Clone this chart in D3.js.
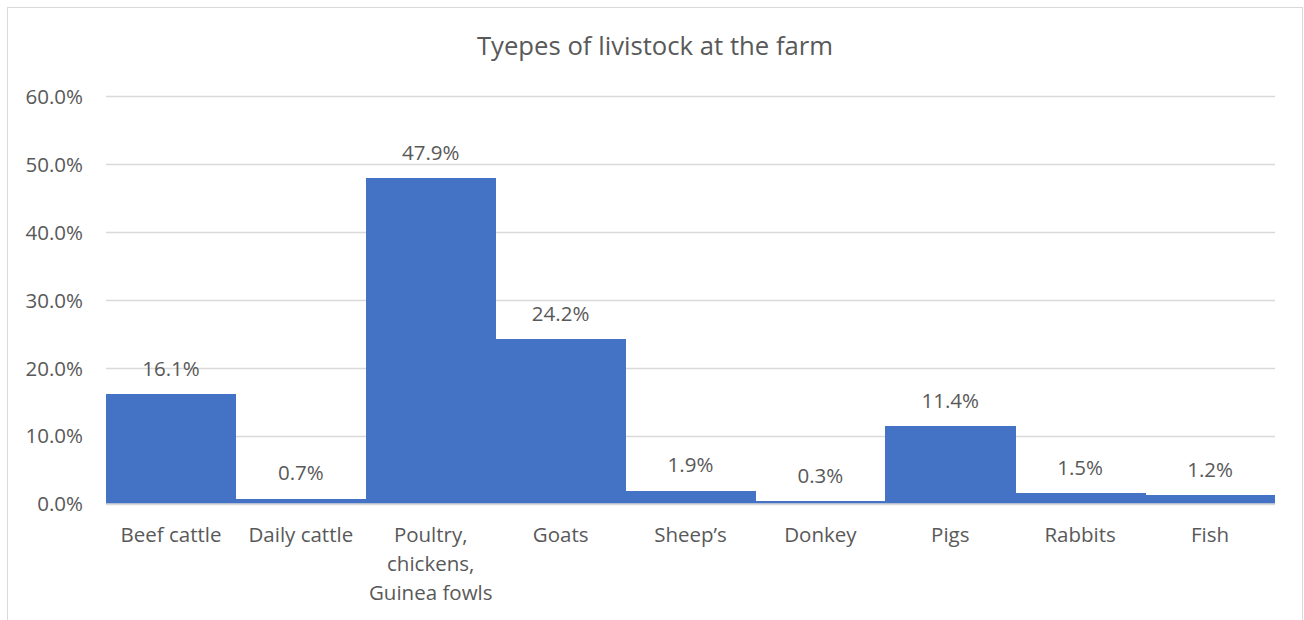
<!DOCTYPE html>
<html>
<head>
<meta charset="utf-8">
<script src="https://cdn.jsdelivr.net/npm/d3@7"></script>
<style>
  html, body { margin: 0; padding: 0; background: #ffffff; }
  svg { display: block; }
  text { font-family: "Open Sans", "Noto Sans", sans-serif; fill: #595959; }
</style>
</head>
<body>
<svg id="chart" width="1304" height="620"></svg>
<script>
// Livestock share by type
const categories = ["Beef cattle", "Daily cattle", "Poultry, chickens, Guinea fowls", "Goats", "Sheep\u2019s", "Donkey", "Pigs", "Rabbits", "Fish"];
const shares = [16.1, 0.7, 47.9, 24.2, 1.9, 0.3, 11.4, 1.5, 1.2];
const yTicks = [0, 10, 20, 30, 40, 50, 60];
const titleText = "Tyepes of livistock at the farm";

const svg = d3.select("#chart");
const plot = { left: 106, right: 1275, top: 96, bottom: 503.5 };
const bodySize = "20.5px";

// outer chart frame
svg.append("rect")
  .attr("x", 7.5).attr("y", 7.5)
  .attr("width", 1295).attr("height", 640)
  .attr("fill", "none").attr("stroke", "#d9d9d9").attr("stroke-width", 1);

const x = d3.scaleBand().domain(categories).range([plot.left, plot.right]).paddingInner(0).paddingOuter(0);
const y = d3.scaleLinear().domain([0, 60]).range([plot.bottom, plot.top]);

// title, centred on the chart frame
svg.append("text")
  .attr("x", 655).attr("y", 55)
  .attr("text-anchor", "middle")
  .style("font-size", "25.7px")
  .text(titleText);

// gridlines
svg.append("g").selectAll("line").data(yTicks).join("line")
  .attr("x1", plot.left).attr("x2", plot.right)
  .attr("y1", d => Math.round(y(d)) + 0.5).attr("y2", d => Math.round(y(d)) + 0.5)
  .attr("stroke", "#d9d9d9").attr("stroke-width", 1.3);

// y axis labels
const yAxis = d3.axisLeft(y).tickValues(yTicks).tickSize(0).tickPadding(0)
  .tickFormat(d => d.toFixed(1) + "%");
const yg = svg.append("g").attr("transform", `translate(83,0)`).call(yAxis);
yg.select(".domain").remove();
yg.selectAll("text").style("font-size", bodySize).attr("fill", "#595959").attr("dy", "0.36em")
  .attr("font-family", null);

// bars (touching, no gap between bands)
svg.append("g").attr("shape-rendering", "crispEdges")
  .selectAll("rect").data(shares).join("rect")
  .attr("x", (d, i) => x(categories[i]))
  .attr("width", (d, i) => x.bandwidth() + (i < categories.length - 1 ? 0.5 : 0))
  .attr("y", d => y(d))
  .attr("height", d => y(0) - y(d))
  .attr("fill", "#4472c4");

// baseline axis
svg.append("line")
  .attr("x1", plot.left).attr("x2", plot.right)
  .attr("y1", plot.bottom + 0.5).attr("y2", plot.bottom + 0.5)
  .attr("stroke", "#d9d9d9").attr("stroke-width", 1.3);

// value labels
svg.append("g").selectAll("text").data(shares).join("text")
  .attr("x", (d, i) => x(categories[i]) + x.bandwidth() / 2)
  .attr("y", d => y(d) - 18.5)
  .attr("text-anchor", "middle")
  .style("font-size", bodySize)
  .text(d => d.toFixed(1) + "%");

// category labels, wrapped to the band width
const xg = svg.append("g");
categories.forEach(cat => {
  const cx = x(cat) + x.bandwidth() / 2;
  const t = xg.append("text").attr("x", cx).attr("y", 541.5)
    .attr("text-anchor", "middle").style("font-size", bodySize);
  const words = cat.split(" ");
  let line = [];
  let tspan = t.append("tspan").attr("x", cx).attr("dy", 0);
  words.forEach(w => {
    line.push(w);
    tspan.text(line.join(" "));
    if (tspan.node().getComputedTextLength() > x.bandwidth() && line.length > 1) {
      line.pop();
      tspan.text(line.join(" "));
      line = [w];
      tspan = t.append("tspan").attr("x", cx).attr("dy", 29.2).text(w);
    }
  });
});
</script>
</body>
</html>
